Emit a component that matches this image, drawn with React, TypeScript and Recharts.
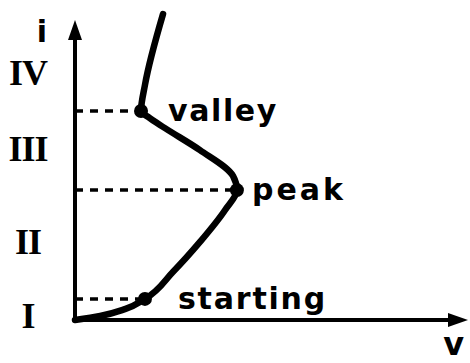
import React from 'react';
import {
  ComposedChart,
  Line,
  XAxis,
  YAxis,
  ReferenceLine,
  ReferenceDot,
} from 'recharts';

// i-v curve (arbitrary units, 0..100 on both axes)
const curveV = [0, 6.4, 12.7, 17.8, 24.9, 31.8, 38.2, 41.2, 40.2, 31.8, 22.9, 18.6, 16.8, 17.8, 22.4];
const curveI = [0, 1.3, 3.5, 6.8, 15.5, 25.2, 35.5, 41.9, 46.5, 54.8, 61.9, 65.5, 67.4, 75.8, 98.7];

// marked points
const pointNames = ['starting', 'peak', 'valley'];
const pointV = [17.8, 41.2, 16.8];
const pointI = [6.8, 41.9, 67.4];

// region labels on the i axis
const regionLabels = ['I', 'II', 'III', 'IV'];
const regionTicks = [1.5, 25.5, 55.5, 80];

const axisTipV = 100;
const axisTipI = 96.8;

const curve = curveV.map((v, k) => ({ v, i: curveI[k] }));
const points = pointNames.map((name, k) => ({ name, v: pointV[k], i: pointI[k] }));

const labelGap: Record<string, number> = { starting: 26, peak: 8, valley: 20 };
const labelSpacing: Record<string, number> = { starting: 1.8, peak: 3, valley: 1.6 };

const FONT = 'DejaVu Sans';

const RomanTick = (props: any) => {
  const { y, payload } = props;
  const k = regionTicks.indexOf(payload.value);
  return (
    <text
      x={28}
      y={y}
      dy="0.35em"
      textAnchor="middle"
      fontFamily="Liberation Serif"
      fontWeight="bold"
      fontSize={36}
      letterSpacing={-1}
      fill="#000"
    >
      {regionLabels[k]}
    </text>
  );
};

const UpArrow = (props: any) => {
  const { cx, cy } = props;
  return <path d={`M${cx},${cy} L${cx - 7},${cy + 20} L${cx + 7},${cy + 20} Z`} fill="#000" />;
};

const RightArrow = (props: any) => {
  const { cx, cy } = props;
  return <path d={`M${cx},${cy} L${cx - 20},${cy - 7} L${cx - 20},${cy + 7} Z`} fill="#000" />;
};

const pointLabel = (name: string) => (props: any) => {
  const { viewBox } = props;
  const x = viewBox.x + viewBox.width + labelGap[name];
  const y = viewBox.y + viewBox.height / 2;
  return (
    <text
      x={x}
      y={y}
      dy="0.33em"
      fontFamily={FONT}
      fontWeight="bold"
      fontSize={30}
      letterSpacing={labelSpacing[name]}
      fill="#000"
    >
      {name}
    </text>
  );
};

export default function App() {
  return (
    <div style={{ position: 'absolute', left: 0, top: 0, background: '#fff' }}>
      <ComposedChart width={470} height={363} margin={{ top: 10, right: 2, bottom: 0, left: 0 }}>
        <XAxis
          type="number"
          dataKey="v"
          domain={[0, 100]}
          ticks={[]}
          tick={false}
          tickLine={false}
          axisLine={false}
          height={43}
          label={(props: any) => {
            const vb = props.viewBox;
            return (
              <text
                x={vb.x + vb.width - 4}
                y={vb.y + 35}
                textAnchor="end"
                fontFamily={FONT}
                fontWeight="bold"
                fontSize={32}
                fill="#000"
              >
                v
              </text>
            );
          }}
        />
        <YAxis
          type="number"
          dataKey="i"
          domain={[0, 100]}
          ticks={regionTicks}
          interval={0}
          tick={<RomanTick />}
          tickLine={false}
          axisLine={false}
          width={75}
          label={(props: any) => {
            const vb = props.viewBox;
            return (
              <text x={vb.x + 42} y={vb.y + 32} textAnchor="middle" fontFamily={FONT} fontWeight="bold" fontSize={30} fill="#000">
                i
              </text>
            );
          }}
        />
        {points.map((p) => (
          <ReferenceLine
            key={'d' + p.name}
            segment={[{ x: 0, y: p.i }, { x: p.v, y: p.i }]}
            stroke="#000"
            strokeWidth={3.5}
            strokeDasharray="8 7"
          />
        ))}
        <ReferenceLine segment={[{ x: 0, y: 0 }, { x: 0, y: axisTipI - 5 }]} stroke="#000" strokeWidth={4} />
        <ReferenceLine segment={[{ x: 0, y: 0 }, { x: axisTipV - 4, y: 0 }]} stroke="#000" strokeWidth={4} />
        <ReferenceDot x={0} y={axisTipI} r={1} shape={<UpArrow />} />
        <ReferenceDot x={axisTipV} y={0} r={1} shape={<RightArrow />} />
        <Line
          data={curve}
          dataKey="i"
          type="monotoneY"
          stroke="#000"
          strokeWidth={6.5}
          strokeLinecap="round"
          dot={false}
          activeDot={false}
          isAnimationActive={false}
        />
        {points.map((p) => (
          <ReferenceDot
            key={'p' + p.name}
            x={p.v}
            y={p.i}
            r={7}
            fill="#000"
            stroke="none"
            label={{ content: pointLabel(p.name) }}
          />
        ))}
      </ComposedChart>
    </div>
  );
}
